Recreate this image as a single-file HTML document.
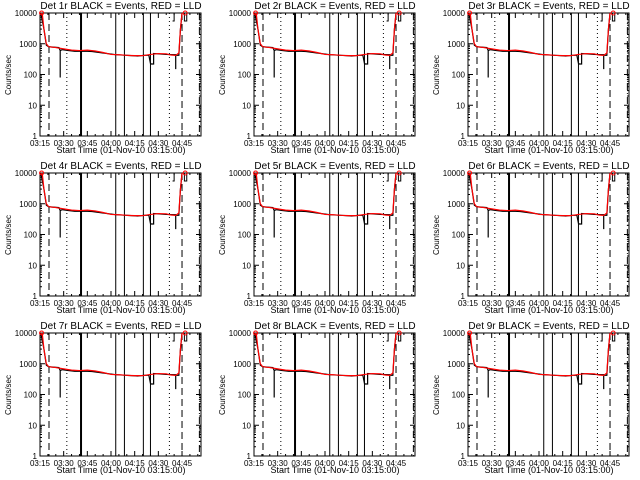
<!DOCTYPE html>
<html><head><meta charset="utf-8">
<style>body{margin:0;background:#fff}svg{display:block}text{font-family:"Liberation Sans",sans-serif;fill:#000}</style>
</head><body>
<svg id="s" width="640" height="480"></svg>
<script>
const dets=["1r","2r","3r","4r","5r","6r","7r","8r","9r"];
const xTicks=["03:15","03:30","03:45","04:00","04:15","04:30","04:45"];
const yTicks=[1,10,100,1000,10000];
const redT=[0.5,1.5,2.5,4,5.5,10,15,20,25,30,35,40,45,50,55,60,65,70,75,80,83,86,88,89,90];
const redV=[10000,9000,3000,1000,800,750,680,620,600,620,580,520,450,440,420,410,410,450,480,470,430,420,500,3000,10000];
const blkT=[0.5,2.5,4,5.5,12,12.8,12.8,12.8,14,18,22,30,33,40,48,55,62,66,69,70,70.5,72,72,80,86,86,86,88,89,90];
const blkV=[10000,3000,900,800,750,600,80,600,640,600,570,570,560,500,440,420,400,420,420,230,220,220,480,450,440,150,420,420,3000,10000];
const solidT=[26,48,53.5,65.5,70];
const NS="http://www.w3.org/2000/svg";
const svg=document.getElementById('s');
function el(tag,a,p){const e=document.createElementNS(NS,tag);for(const k in a)e.setAttribute(k,a[k]);(p||svg).appendChild(e);return e;}
dets.forEach((d,i)=>{
  const ox=(i%3)*214, oy=Math.floor(i/3)*160;
  const g=el('g',{transform:`translate(${ox},${oy})`});
  
  
  const L=40,R=201,T=13,B=136;
  const X=t=>L+t*1.578;
  const Y=v=>B-(Math.log10(v))*(B-T)/4;
  const tt=el('text',{x:121,y:9,'font-size':10,'text-anchor':'middle'},g);tt.textContent=`Det ${d} BLACK = Events, RED = LLD`;
  
  
  const bx=el('rect',{x:L,y:T,width:R-L,height:B-T,fill:'none',stroke:'#000','stroke-width':1},g);
  
  
  xTicks.forEach((lab,k)=>{const x=X(k*15);
    el('line',{x1:x,y1:B,x2:x,y2:B-5,stroke:'#000'},g);el('line',{x1:x,y1:T,x2:x,y2:T+5,stroke:'#000'},g);
    const t=el('text',{x:x,y:B+10,'font-size':8,'text-anchor':'middle'},g);t.textContent=lab;
    
    
  });
  for(let m=5;m<105;m+=5){if(m%15==0)continue;const x=X(m);if(x>R)break;el('line',{x1:x,y1:B,x2:x,y2:B-2,stroke:'#000'},g);el('line',{x1:x,y1:T,x2:x,y2:T+2,stroke:'#000'},g);}
  yTicks.forEach(v=>{const y=Y(v);
    el('line',{x1:L,y1:y,x2:L+5,y2:y,stroke:'#000'},g);el('line',{x1:R,y1:y,x2:R-5,y2:y,stroke:'#000'},g);
    const t=el('text',{x:L-3,y:y+3,'font-size':8,'text-anchor':'end'},g);t.textContent=v;
    
    
    if(v<10000)for(let k=2;k<10;k++){const yy=Y(v*k);el('line',{x1:L,y1:yy,x2:L+2,y2:yy,stroke:'#000'},g);el('line',{x1:R,y1:yy,x2:R-2,y2:yy,stroke:'#000'},g);}
  });
  const yl=el('text',{x:0,y:0,'font-size':8,'text-anchor':'middle',transform:`translate(11,75) rotate(-90)`},g);yl.textContent='Counts/sec';
  
  
  const xl=el('text',{x:121,y:153,'font-size':9,'text-anchor':'middle'},g);xl.textContent='Start Time (01-Nov-10 03:15:00)';
  
  
  const vl=(t,da,w)=>{const x=X(t);const l=el('line',{x1:x,y1:T,x2:x,y2:B,stroke:'#000','stroke-width':w||1,'stroke-dasharray':da||'none'},g);
    
    };
  vl(5.7,'7,4');vl(17,'1,3');vl(26,null,2);solidT.slice(1).forEach(t=>vl(t));vl(82,'1,3');vl(90,'7,4');vl(101,'7,3,1,3');
  el('path',{d:`M${X(85)} ${T}V${T+8}H${X(84)}M${X(91.5)} ${T}V${T+8}H${X(93)}V${T}`,fill:'none',stroke:'#000'},g);
  const mk=(ts,vs,c,n)=>{const p=el('polyline',{points:ts.map((t,k)=>X(t)+','+Y(vs[k])).join(' '),fill:'none',stroke:c,'stroke-width':1.2},g);
    
    };
  mk(blkT,blkV,'#000','events-series');
  mk(redT,redV,'#f00','lld-series');
  el('circle',{cx:X(1),cy:Y(10000),r:2,fill:'none',stroke:'#f00'},g);
  el('circle',{cx:X(92),cy:Y(10000),r:2,fill:'none',stroke:'#f00'},g);
});
</script>
</body></html>
